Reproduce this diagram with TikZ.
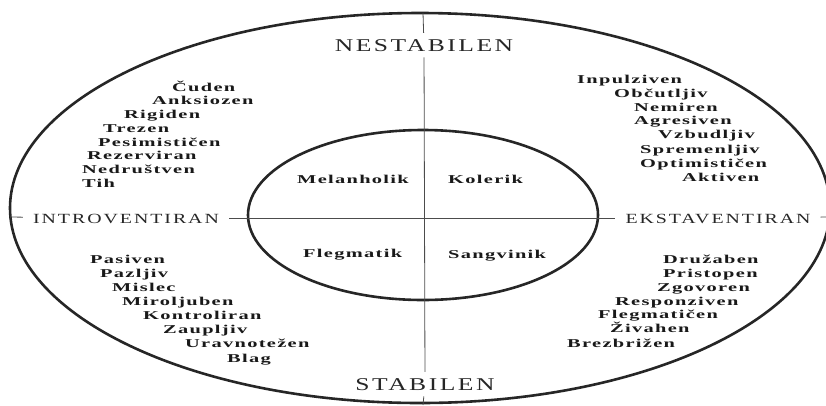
\documentclass[tikz,border=0pt]{standalone}
\usepackage{fontspec}
\newfontfamily\wordfont[FakeStretch=1.7,LetterSpace=11]{Liberation Serif}
\newfontfamily\axisfont[FakeStretch=1.42,LetterSpace=14]{Liberation Serif}
\usepackage{tikz}
\usetikzlibrary{positioning}

\begin{document}
\begin{tikzpicture}[
      x=1pt, y=-1pt,
      word/.style={font=\wordfont\bfseries\fontsize{12}{14}\selectfont, text=black!90, anchor=base west, inner sep=0pt},
      axisv/.style={font=\axisfont\fontsize{18}{20}\selectfont, text=black!85, anchor=base, inner xsep=2pt, inner ysep=6pt},
      axish/.style={font=\axisfont\fontsize{14}{16}\selectfont, text=black!85, anchor=base, inner xsep=10pt, inner ysep=2pt},
      ring/.style={draw=black!85, line width=2.6pt},
      axline/.style={draw=black!70, line width=0.8pt}
    ]
    \useasboundingbox (0,0) rectangle (826,405);
    %% rings
    \draw[ring] (420,208) ellipse [x radius=410, y radius=195];
    \draw[ring] (423,215) ellipse [x radius=175, y radius=85];
    \coordinate (otop) at (423,13);
    \coordinate (obot) at (423,405);
    \coordinate (oleft) at (10,217);
    \coordinate (oright) at (828,217);
    %% axes
    \node[axisv] (nest) at (424,51) {NESTABILEN};
    \node[axisv] (stab) at (425,390) {STABILEN};
    \node[axish] (intro) at (126,223) {INTROVENTIRAN};
    \node[axish] (eksta) at (718,223) {EKSTAVENTIRAN};
    \draw[axline] (otop) -- (nest);
    \draw[axline] (nest) -- (stab);
    \draw[axline] (stab) -- (obot);
    \draw[axline] (oleft) -- (intro);
    \draw[axline] (intro) -- (eksta);
    \draw[axline] (eksta) -- (oright);
    %% temperaments
    \node[word] (melan) at (297,183) {Melanholik};
    \node[word] (koler) at (448,183) {Kolerik};
    \node[word] (flegm) at (303,257) {Flegmatik};
    \node[word] (sangv) at (448,258) {Sangvinik};
    %% unstable, introverted
    \node[word] (cuden) at (172,91) {Čuden};
    \node[word] (anksi) at (152,104) {Anksiozen};
    \node[word] (rigid) at (124,118) {Rigiden};
    \node[word] (treze) at (103,132) {Trezen};
    \node[word] (pesim) at (98,146) {Pesimističen};
    \node[word] (rezer) at (87,159) {Rezerviran};
    \node[word] (nedru) at (82,173) {Nedruštven};
    \node[word] (tih) at (82,187) {Tih};
    %% unstable, extraverted
    \node[word] (inpul) at (577,83) {Inpulziven};
    \node[word] (obcut) at (614,97) {Občutljiv};
    \node[word] (nemir) at (634,111) {Nemiren};
    \node[word] (agres) at (634,124) {Agresiven};
    \node[word] (vzbud) at (658,138) {Vzbudljiv};
    \node[word] (sprem) at (640,153) {Spremenljiv};
    \node[word] (optim) at (640,167) {Optimističen};
    \node[word] (aktiv) at (682,181) {Aktiven};
    %% stable, introverted
    \node[word] (pasiv) at (90,263) {Pasiven};
    \node[word] (pazlj) at (100,277) {Pazljiv};
    \node[word] (misle) at (112,291) {Mislec};
    \node[word] (mirol) at (122,305) {Miroljuben};
    \node[word] (kontr) at (143,319) {Kontroliran};
    \node[word] (zaupl) at (163,333) {Zaupljiv};
    \node[word] (uravn) at (185,347) {Uravnotežen};
    \node[word] (blag) at (227,362) {Blag};
    %% stable, extraverted
    \node[word] (druza) at (663,263) {Družaben};
    \node[word] (prist) at (663,277) {Pristopen};
    \node[word] (zgovo) at (657,291) {Zgovoren};
    \node[word] (respo) at (615,305) {Responziven};
    \node[word] (flegc) at (598,318) {Flegmatičen};
    \node[word] (zivah) at (610,332) {Živahen};
    \node[word] (brezb) at (567,347) {Brezbrižen};
  \end{tikzpicture}
\end{document}
